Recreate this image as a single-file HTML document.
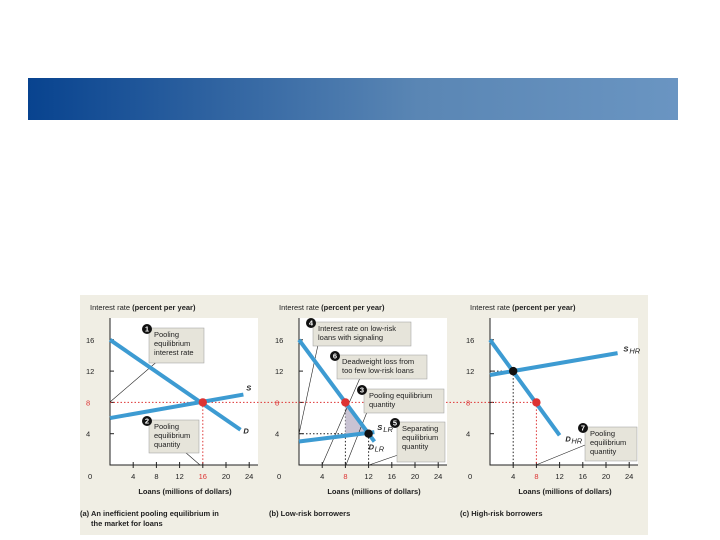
<!DOCTYPE html>
<html><head><meta charset="utf-8"><style>
body{margin:0;background:#fff;width:720px;height:540px;overflow:hidden;font-family:"Liberation Sans",sans-serif}
svg{position:absolute;left:0;top:0;fill:#222}
text{font-family:"Liberation Sans",sans-serif;font-size:7.5px}
</style></head><body>
<svg width="720" height="540" id="s">
<defs><linearGradient id="g" x1="0" x2="1"><stop offset="0" stop-color="#08438f"/><stop offset="0.6" stop-color="#5a86b4"/><stop offset="1" stop-color="#6a95c2"/></linearGradient></defs>
<rect x="28" y="78" width="650" height="42" fill="url(#g)"/>
<rect x="80" y="295" width="568" height="240" fill="#f0eee4"/>
</svg>
<script>
const panels=[{x0:110,name:'a',title:'(a) An inefficient pooling equilibrium in',title2:'the market for loans'},{x0:299,name:'b',title:'(b) Low-risk borrowers'},{x0:490,name:'c',title:'(c) High-risk borrowers'}];
const yTicks=[4,8,12,16];
const xTicks=[4,8,12,16,20,24];
// curves: [x1,y1,x2,y2] in data units
const curvesA=[[0,16,22.5,4.5],[0,6,23,9]];
const curvesB=[[0,16,13,3],[0,3,13,4.2]];
const curvesC=[[0,16,12,3.8],[0,11.5,22,14.3]];
const pointsA=[[16,8,'#d33']];
const pointsB=[[8,8,'#d33'],[12,4,'#111']];
const pointsC=[[4,12,'#111'],[8,8,'#d33']];
const curveLabelsA=[['S',23.5,9.5],['D',23,4]];
const curveLabelsB=[['S',13.5,4.5,'LR'],['D',12,2,'LR']];
const curveLabelsC=[['S',23,14.5,'HR'],['D',13,3,'HR']];
const S=document.getElementById('s');const NS='http://www.w3.org/2000/svg';
function el(t,a,txt){const e=document.createElementNS(NS,t);for(const k in a)e.setAttribute(k,a[k]);if(txt!=null)e.textContent=txt;S.appendChild(e);return e;}
const Y0=465,ys=31.3/4,xs=23.2/4;
function Y(v){return Y0-v*ys}
panels.forEach((p,i)=>{
 const X=v=>p.x0+v*xs;
 let r=el('rect',{x:p.x0,y:318,width:148,height:Y0-318,fill:'#fff'});
 
 
 let t=el('text',{x:p.x0-20,y:310,'font-size':'7.5'},'Interest rate ');
 
 
 let ts=document.createElementNS(NS,'tspan');ts.setAttribute('font-weight','bold');ts.textContent='(percent per year)';t.appendChild(ts);
 let ax=el('path',{d:`M${p.x0} 318V${Y0}H${p.x0+148}`,stroke:'#222','stroke-width':'1',fill:'none'});
 
 
 yTicks.forEach(v=>{
  el('line',{x1:p.x0,x2:p.x0+4,y1:Y(v),y2:Y(v),stroke:'#222'});
  let l=el('text',{x:p.x0-24,y:Y(v)+3,fill:v==8?'#d33':'#222','font-size':'8'},v);
  
  
 });
 el('text',{x:p.x0-22,y:479,'font-size':'8'},'0');
 xTicks.forEach(v=>{
  el('line',{x1:X(v),x2:X(v),y1:Y0-3,y2:Y0+3,stroke:'#222'});
  let l=el('text',{x:X(v),y:479,'text-anchor':'middle','font-size':'8',fill:(p.name=='a'&&v==16)||(p.name!='a'&&v==8)?'#d33':'#222'},v);
  
  
 });
 let xt=el('text',{x:p.x0+75,y:494,'text-anchor':'middle','font-weight':'bold'},'Loans (millions of dollars)');
 
 
 let c=el('text',{x:p.x0-30,y:516,'font-weight':'bold'},p.title);
 
 
 if(p.title2){el('text',{x:p.x0-19,y:526,'font-weight':'bold'},p.title2);}
});
let rl=el('line',{x1:110,x2:490+8*xs,y1:Y(8),y2:Y(8),stroke:'#d33','stroke-dasharray':'1.5 2'});


function drop(x0,x,y,col){el('line',{x1:x0+x*xs,x2:x0+x*xs,y1:Y(y),y2:Y0,stroke:col,'stroke-dasharray':'1.5 2'});}
drop(110,16,8,'#d33');drop(299,8,8,'#222');drop(299,12,4,'#222');drop(490,4,12,'#222');drop(490,8,8,'#d33');
el('line',{x1:299,x2:299+12*xs,y1:Y(4),y2:Y(4),stroke:'#222','stroke-dasharray':'1.5 2'});
el('line',{x1:490,x2:490+4*xs,y1:Y(12),y2:Y(12),stroke:'#222','stroke-dasharray':'1.5 2'});
let dw=el('polygon',{points:`${299+8*xs},${Y(8)} ${299+8*xs},${Y(3+1.2*8/13)} ${299+12*xs},${Y(4)}`,fill:'#c9c3d3'});


function callout(n,x,y,w,h,lines,lx1,ly1,lx2,ly2){
 el('line',{x1:lx1,y1:ly1,x2:lx2,y2:ly2,stroke:'#222','stroke-width':'0.6'});
 let b=el('rect',{x:x,y:y,width:w,height:h,fill:'#e6e4da',stroke:'#999','stroke-width':'0.5'});
 
 
 el('circle',{cx:x-2,cy:y+1,r:5,fill:'#111'});
 el('text',{x:x-2,y:y+3.5,'text-anchor':'middle',fill:'#fff','font-size':'7','font-weight':'bold'},n);
 lines.forEach((s,i)=>el('text',{x:x+5,y:y+9+i*9},s));
}
callout(1,149,328,55,35,['Pooling','equilibrium','interest rate'],110,402,160,359);
callout(2,149,420,50,33,['Pooling','equilibrium','quantity'],200,465,185,452);
callout(4,313,322,98,24,['Interest rate on low-risk','loans with signaling'],299,434,322,326);
callout(6,337,355,90,24,['Deadweight loss from','too few low-risk loans'],322,465,360,378);
callout(3,364,389,80,24,['Pooling equilibrium','quantity'],346,465,367,412);
callout(5,397,422,48,40,['Separating','equilibrium','quantity'],369,465,398,455);
callout(7,585,427,52,34,['Pooling','equilibrium','quantity'],536,465,585,445);
function drawCurves(x0,arr,nm){arr.forEach((c,i)=>{let l=el('line',{x1:x0+c[0]*xs,y1:Y(c[1]),x2:x0+c[2]*xs,y2:Y(c[3]),stroke:'#3d9bd2','stroke-width':'4','stroke-linecap':'butt'});
 
 });}
drawCurves(110,curvesA,'a');drawCurves(299,curvesB,'b');drawCurves(490,curvesC,'c');
function drawPts(x0,arr){arr.forEach(p=>{let c=el('circle',{cx:x0+p[0]*xs,cy:Y(p[1]),r:4.2,fill:p[2]});
 
 });}
drawPts(110,pointsA);drawPts(299,pointsB);drawPts(490,pointsC);
function drawLabels(x0,arr){arr.forEach(l=>{let t=el('text',{x:x0+l[1]*xs,y:Y(l[2]),'font-weight':'bold','font-style':'italic','font-size':'8'},l[0]);
 
 
 if(l[3]){el('text',{x:x0+l[1]*xs+6,y:Y(l[2])+2,'font-size':'5.5','font-style':'italic'},l[3]);}});}
drawLabels(110,curveLabelsA);drawLabels(299,curveLabelsB);drawLabels(490,curveLabelsC);
</script>
</body></html>
